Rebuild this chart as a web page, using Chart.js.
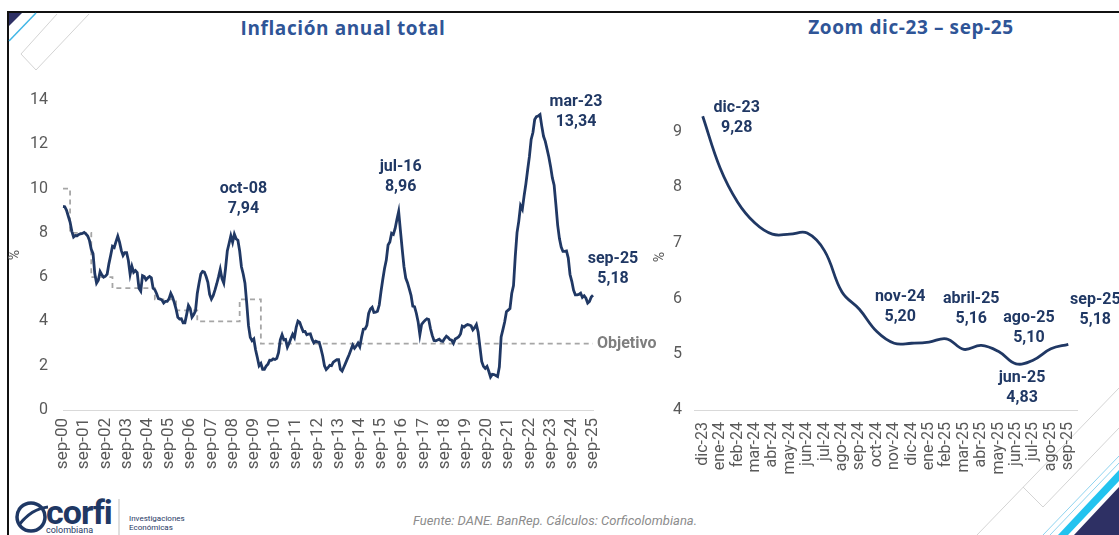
<!DOCTYPE html>
<html lang="es">
<head>
<meta charset="utf-8">
<script src="https://cdn.jsdelivr.net/npm/chart.js@4.4.1/dist/chart.umd.min.js"></script>
<style>
  body { margin: 0; background: #fff; }
  #wrap { position: relative; width: 1119px; height: 535px; overflow: hidden; background: #fff; font-family: Roboto, sans-serif; }
  .titulo { position: absolute; top: 15px; font-family: "Open Sans", sans-serif; font-weight: 700; font-size: 19px; letter-spacing: 0.6px; color: #2f5597; white-space: nowrap; transform: translateX(-50%); }
  canvas { position: absolute; top: 0; }
  #fuente { position: absolute; left: 413px; top: 513px; font-size: 13px; font-style: italic; color: #8c8c8c; }
</style>
</head>
<body>
<div id="wrap">
  <div style="position:absolute;left:8px;top:11px;width:1111px;height:2px;background:#111;"></div>
  <div style="position:absolute;left:7px;top:11px;width:2px;height:524px;background:#111;"></div>

  <svg width="1119" height="535" style="position:absolute;left:0;top:0;">
    <polygon points="9,13 22,13 9,26" fill="#2e3064"/>
    <line x1="9" y1="41" x2="36" y2="13" stroke="#41b6e6" stroke-width="1.5"/>
    <polyline points="57,14 21,54 36,70 89,14" fill="none" stroke="#d4d4d4" stroke-width="1"/>
    <polyline points="977,535 1119,388" fill="none" stroke="#d4d4d4" stroke-width="1"/>
    <polyline points="1023,487 1043,507 1119,428" fill="none" stroke="#d4d4d4" stroke-width="1"/>
    <line x1="1043" y1="535" x2="1119" y2="456" stroke="#8fd3ef" stroke-width="1"/>
    <line x1="1050" y1="535" x2="1119" y2="463" stroke="#8fd3ef" stroke-width="1"/>
    <polygon points="1058,535 1119,470 1119,481 1068,535" fill="#22c3ef"/>
    <polygon points="1074,535 1119,487 1119,535" fill="#2e3064"/>
    <circle cx="31" cy="517" r="14" fill="none" stroke="#1f3864" stroke-width="3.5"/>
    <path d="M19 525 Q31 509 48 507" fill="none" stroke="#1f3864" stroke-width="3"/>
    <line x1="119" y1="499" x2="119" y2="535" stroke="#bfbfbf" stroke-width="1"/>
  </svg>
  <div style="position:absolute;left:46px;top:492px;font-family:Roboto,sans-serif;font-weight:700;font-size:34px;color:#1f3864;letter-spacing:-1px;">corfi</div>
  <div style="position:absolute;left:46px;top:525px;font-size:9px;color:#1f3864;">colombiana</div>
  <div style="position:absolute;left:129px;top:514px;font-size:8px;line-height:9px;color:#1f3864;">Investigaciones<br>Económicas</div>
  <div id="fuente">Fuente: DANE. BanRep. Cálculos: Corficolombiana.</div>

  <div class="titulo" style="left:343px;">Inflación anual total</div>
  <div class="titulo" style="left:911px;top:14px;">Zoom dic-23 – sep-25</div>

  <canvas id="chart-total" width="670" height="480" style="left:0;"></canvas>
  <canvas id="chart-zoom" width="499" height="480" style="left:620px;"></canvas>
</div>

<script>
// data: inflación anual total, mensual sep-00 a sep-25
const meses = ["ene", "feb", "mar", "abr", "may", "jun", "jul", "ago", "sep", "oct", "nov", "dic"];
const etiquetas = [];
for (let a = 2000; a <= 2025; a++) {
  for (let k = 0; k < 12; k++) {
    if ((a === 2000 && k < 8) || (a === 2025 && k > 8)) continue;
    etiquetas.push(meses[k] + "-" + String(a % 100).padStart(2, "0"));
  }
}

const inflacion = [
  9.19, 9.18, 9.02, 8.75,
  8.49, 8.07, 7.81, 7.88, 7.87, 7.93, 7.96, 7.97, 8.02, 7.95, 7.86, 7.65,
  7.26, 7.06, 6.15, 5.73, 5.86, 6.25, 6.10, 6.00, 6.04, 6.14, 6.61, 6.99,
  7.39, 7.34, 7.60, 7.85, 7.58, 7.21, 6.98, 7.11, 7.11, 6.75, 6.13, 6.49,
  6.22, 6.30, 6.21, 5.50, 5.37, 6.07, 6.03, 5.88, 5.97, 6.03, 5.97, 5.50,
  5.43, 5.25, 5.03, 5.01, 4.97, 4.83, 4.91, 4.91, 5.02, 5.27, 5.10, 4.85,
  4.56, 4.19, 4.11, 4.12, 3.94, 3.94, 4.32, 4.72, 4.58, 4.19, 4.31, 4.48,
  5.26, 5.72, 6.14, 6.26, 6.23, 6.03, 5.77, 5.22, 5.01, 5.16, 5.41, 5.69,
  6.00, 6.35, 5.93, 5.73, 6.39, 7.18, 7.52, 7.87, 7.57, 7.94, 7.73, 7.67,
  7.18, 6.47, 6.14, 5.73, 4.81, 3.81, 3.28, 3.13, 3.21, 2.72, 2.37, 2.00,
  2.10, 1.84, 1.84, 1.98, 2.07, 2.25, 2.24, 2.31, 2.28, 2.33, 2.59, 3.17,
  3.40, 3.17, 3.19, 2.84, 3.02, 3.23, 3.42, 3.27, 3.73, 4.02, 3.96, 3.73,
  3.54, 3.55, 3.40, 3.43, 3.44, 3.20, 3.03, 3.11, 3.08, 3.06, 2.77, 2.44,
  2.00, 1.83, 1.91, 2.02, 2.00, 2.16, 2.22, 2.27, 2.27, 1.84, 1.76, 1.94,
  2.13, 2.32, 2.51, 2.72, 2.93, 2.79, 2.89, 3.02, 2.86, 3.29, 3.65, 3.66,
  3.82, 4.36, 4.56, 4.64, 4.41, 4.42, 4.46, 4.74, 5.35, 5.89, 6.39, 6.77,
  7.45, 7.59, 7.98, 7.93, 8.20, 8.60, 8.96, 8.10, 7.27, 6.48, 5.96, 5.75,
  5.47, 5.18, 4.69, 4.66, 4.37, 3.99, 3.40, 3.87, 3.97, 4.05, 4.12, 4.09,
  3.68, 3.37, 3.14, 3.13, 3.16, 3.20, 3.12, 3.10, 3.23, 3.33, 3.27, 3.18,
  3.15, 3.01, 3.21, 3.25, 3.31, 3.43, 3.79, 3.75, 3.82, 3.86, 3.84, 3.80,
  3.62, 3.72, 3.86, 3.51, 2.85, 2.19, 1.97, 1.88, 1.97, 1.75, 1.49, 1.61,
  1.60, 1.56, 1.51, 1.95, 3.30, 3.63, 3.97, 4.44, 4.51, 4.58, 5.26, 5.62,
  6.94, 8.01, 8.53, 9.23, 9.07, 9.67, 10.21, 10.84, 11.44, 12.22, 12.53, 13.12,
  13.25, 13.28, 13.34, 12.82, 12.36, 12.13, 11.78, 11.43, 10.99, 10.48, 10.15, 9.28,
  8.35, 7.74, 7.36, 7.16, 7.16, 7.18, 6.86, 6.12, 5.81, 5.41, 5.20, 5.20,
  5.22, 5.28, 5.09, 5.16, 5.05, 4.83, 4.90, 5.10, 5.18,
];

// meta de inflación (cambios de nivel)
const objetivoMes = ["sep-00", "ene-01", "ene-02", "ene-03", "ene-05", "ene-06", "ene-07", "ene-09", "ene-10", "sep-25"];
const objetivoValor = [10, 8, 6, 5.5, 5, 4.5, 4, 5, 3, 3];
const objetivo = etiquetas.map((e) => {
  const k = objetivoMes.indexOf(e);
  return k >= 0 ? objetivoValor[k] : null;
});

const totalTicks = [0, 2, 4, 6, 8, 10, 12, 14];

// zoom
const zoomEtiquetas = ["dic-23", "ene-24", "feb-24", "mar-24", "abr-24", "may-24", "jun-24", "jul-24", "ago-24", "sep-24", "oct-24", "nov-24", "dic-24", "ene-25", "feb-25", "mar-25", "abr-25", "may-25", "jun-25", "jul-25", "ago-25", "sep-25"];
const zoomValores = [9.28, 8.35, 7.74, 7.36, 7.16, 7.16, 7.18, 6.86, 6.12, 5.81, 5.41, 5.20, 5.20, 5.22, 5.28, 5.09, 5.16, 5.05, 4.83, 4.90, 5.10, 5.18];

const azul = "#203864";
const gris = "#595959";

Chart.defaults.font.family = "Roboto, sans-serif";
Chart.defaults.color = gris;

// etiquetas de texto junto a los puntos
const notas = {
  id: "notas",
  afterDatasetsDraw(chart, args, opts) {
    const { ctx, scales } = chart;
    ctx.save();
    ctx.textBaseline = "middle";
    opts.items.forEach((n) => {
      const ds = chart.data.datasets[n.ds || 0];
      const px = scales.x.getPixelForValue(n.i);
      const py = scales.y.getPixelForValue(ds.data[n.i]);
      ctx.font = opts.font;
      ctx.fillStyle = n.color || azul;
      ctx.textAlign = n.align || "center";
      n.text.forEach((t, k) => ctx.fillText(t, px + n.dx, py + n.dy + k * 20));
    });
    ctx.restore();
  },
};

new Chart(document.getElementById("chart-total"), {
  type: "line",
  data: {
    labels: etiquetas,
    datasets: [
      {
        data: inflacion,
        borderColor: azul,
        borderWidth: 2.8,
        pointRadius: 0,
        tension: 0,
        order: 0,
      },
      {
        data: objetivo,
        borderColor: "#a6a6a6",
        borderWidth: 1.8,
        borderDash: [5, 4],
        pointRadius: 0,
        stepped: true,
        spanGaps: true,
        order: 1,
      },
    ],
  },
  options: {
    responsive: false,
    animation: false,
    layout: { padding: { left: 7, top: 100, right: 77, bottom: 0 } },
    plugins: {
      legend: { display: false },
      tooltip: { enabled: false },
      notas: {
        font: "bold 16px Roboto, sans-serif",
        items: [
          { i: 97, dx: 9, dy: -45, text: ["oct-08", "7,94"] },
          { i: 190, dx: 2, dy: -45, text: ["jul-16", "8,96"] },
          { i: 270, dx: 36, dy: -13, text: ["mar-23", "13,34"] },
          { i: 300, dx: 20, dy: -36, text: ["sep-25", "5,18"] },
          { ds: 1, i: 300, dx: 4, dy: 0, align: "left", color: "#7f7f7f", text: ["Objetivo"] },
        ],
      },
    },
    scales: {
      x: {
        grid: { display: false, drawTicks: false },
        border: { display: true, color: "#d9d9d9", width: 1 },
        ticks: {
          autoSkip: false,
          minRotation: 90,
          maxRotation: 90,
          padding: 8,
          font: { size: 17 },
          color: gris,
          callback: (v, i) => (i % 12 === 0 ? etiquetas[i] : ""),
        },
        afterFit: (s) => { s.height = 70; },
      },
      y: {
        min: 0,
        max: 14,
        afterBuildTicks: (s) => { s.ticks = totalTicks.map((v) => ({ value: v })); },
        grid: { display: false, drawTicks: false },
        border: { display: false },
        ticks: { padding: 15, font: { size: 16 }, color: gris },
        title: { display: true, text: "%", font: { size: 14 }, color: gris, padding: 0 },
        afterFit: (s) => { s.width = 56; },
      },
    },
  },
  plugins: [notas],
});

new Chart(document.getElementById("chart-zoom"), {
  type: "line",
  data: {
    labels: zoomEtiquetas,
    datasets: [
      {
        data: zoomValores,
        borderColor: azul,
        borderWidth: 2.8,
        pointRadius: 0,
        tension: 0.4,
      },
    ],
  },
  options: {
    responsive: false,
    animation: false,
    layout: { padding: { left: 32, top: 104, right: 42, bottom: 0 } },
    plugins: {
      legend: { display: false },
      tooltip: { enabled: false },
      notas: {
        font: "bold 16px Roboto, sans-serif",
        items: [
          { i: 0, dx: 34, dy: -8, text: ["dic-23", "9,28"] },
          { i: 11, dx: 6, dy: -46, text: ["nov-24", "5,20"] },
          { i: 16, dx: -10, dy: -46, text: ["abril-25", "5,16"] },
          { i: 20, dx: -22, dy: -31, text: ["ago-25", "5,10"] },
          { i: 18, dx: 6, dy: 14, text: ["jun-25", "4,83"] },
          { i: 21, dx: 27, dy: -44, text: ["sep-25", "5,18"] },
        ],
      },
    },
    scales: {
      x: {
        offset: true,
        grid: { display: false, drawTicks: false },
        border: { display: true, color: "#d9d9d9", width: 1 },
        ticks: { autoSkip: false, minRotation: 90, maxRotation: 90, padding: 12, font: { size: 16 }, color: gris },
        afterFit: (s) => { s.height = 70; },
      },
      y: {
        min: 4,
        max: 9.5,
        afterBuildTicks: (s) => { s.ticks = s.ticks.filter((t) => Number.isInteger(t.value)); },
        grid: { display: false, drawTicks: false },
        border: { display: false },
        ticks: { stepSize: 1, padding: 12, font: { size: 16 }, color: gris },
        title: { display: true, text: "%", font: { size: 14 }, color: gris, padding: 0 },
        afterFit: (s) => { s.width = 42; },
      },
    },
  },
  plugins: [notas],
});
</script>
</body>
</html>
